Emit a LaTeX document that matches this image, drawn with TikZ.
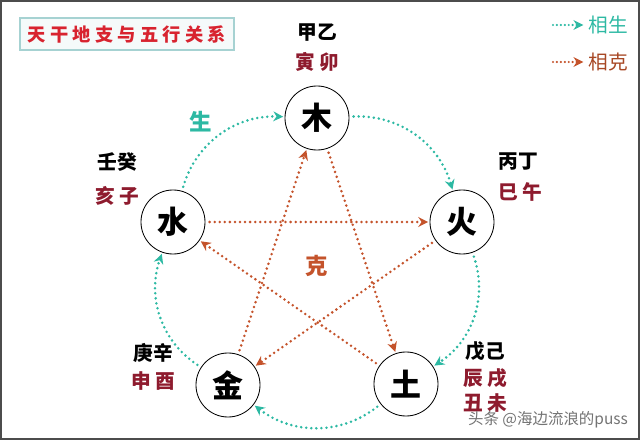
\documentclass[tikz,border=0pt]{standalone}
\usepackage{fontspec}
\setmainfont{Noto Sans CJK SC}
\usetikzlibrary{arrows.meta}
\definecolor{shengc}{HTML}{2DB9A3}
\definecolor{kec}{HTML}{C4532B}
\definecolor{zhic}{HTML}{8E1B2E}
\definecolor{titlec}{HTML}{D8232F}

\begin{document}
\begin{tikzpicture}[x=0.025cm, y=-0.025cm, font=\fontsize{14}{16}\selectfont,
          elem/.style={draw, circle, minimum size=1.6cm, inner sep=0pt, line width=0.6pt,
                       font=\fontsize{22}{24}\selectfont\bfseries},
          gan/.style={font=\fontsize{14}{16}\selectfont\bfseries},
          zhi/.style={text=zhic, font=\fontsize{14}{16}\selectfont\bfseries},
          sheng/.style={-{Stealth[length=7pt,width=7pt]}, draw=shengc, line width=2pt,
                        line cap=round, dash pattern=on 0pt off 3.6pt,
                        shorten <=3pt, shorten >=1pt},
          ke/.style={-{Stealth[length=7pt,width=7pt]}, draw=kec, line width=2pt,
                     line cap=round, dash pattern=on 0pt off 3.6pt,
                     shorten <=3pt, shorten >=1pt}]
        \useasboundingbox (0,0) rectangle (640,440);
        \draw[black!70, line width=2pt] (1,1) rectangle (639,439);
        % title
        \node[draw=teal!35, line width=1.5pt, fill=teal!4, minimum width=5.35cm, minimum height=0.8cm,
              text=titlec, font=\fontsize{13}{15}\selectfont\bfseries] (title) at (127,34) {天 干 地 支 与 五 行 关 系};
        % legend
        \node[text=shengc, font=\fontsize{14}{16}\selectfont] (lsheng) at (608,25) {相生};
        \node[text=kec!85!black, font=\fontsize{14}{16}\selectfont] (lke) at (608,62) {相克};
        \coordinate (ls) at (553,25);
        \coordinate (lk) at (553,62);
        \draw[sheng, line width=1.7pt, dash pattern=on 0pt off 2.8pt, shorten <=0pt, shorten >=0pt] (ls) -- (lsheng.west);
        \draw[ke, line width=1.7pt, dash pattern=on 0pt off 2.8pt, shorten <=0pt, shorten >=0pt] (lk) -- (lke.west);
        % five elements
        \node[elem] (mu)   at (317,118) {木};
        \node[elem] (huo)  at (462,222) {火};
        \node[elem] (tu)   at (406,384) {土};
        \node[elem] (jin)  at (228,385) {金};
        \node[elem] (shui) at (173,222) {水};
        % stems and branches
        \node[gan] (mug)   at (317,33)  {甲乙};
        \node[zhi] (muz)   at (317,62)  {寅 卯};
        \node[gan] (huog)  at (518,162) {丙丁};
        \node[zhi] (huoz)  at (520,192) {巳 午};
        \node[gan] (tug)   at (485,351) {戊己};
        \node[zhi] (tuz1)  at (485,378) {辰 戌};
        \node[zhi] (tuz2)  at (485,403) {丑 未};
        \node[gan] (jing)  at (153,353) {庚辛};
        \node[zhi] (jinz)  at (153,381) {申 酉};
        \node[gan] (shuig) at (117,162) {壬癸};
        \node[zhi] (shuiz) at (117,196) {亥 子};
        % cycle labels
        \node[text=shengc, font=\fontsize{16}{18}\selectfont\bfseries] (sheng) at (201,122) {生};
        \node[text=kec, font=\fontsize{16}{18}\selectfont\bfseries] (ke) at (317,266) {克};
        % arrows
        \foreach \a/\b in {mu/huo, huo/tu, tu/jin, jin/shui, shui/mu}
          \draw[sheng] (\a) to[bend left=38] (\b);
        \foreach \a/\b in {mu/tu, tu/shui, shui/huo, huo/jin, jin/mu}
          \draw[ke] (\a) -- (\b);
        % watermark
        \node[text=black!55, font=\fontsize{11}{13}\selectfont] (mark) at (548,420) {头条 @海边流浪的puss};
      \end{tikzpicture}
\end{document}
